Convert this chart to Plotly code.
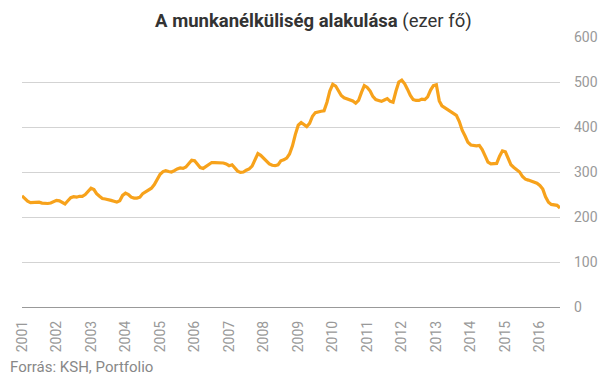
import plotly.graph_objects as go
import pandas as pd

# Monthly unemployment (thousand persons), Jan 2001 - Aug 2016
start_month = "2001-01-01"
values = [
    247, 241, 235, 232, 232, 232, 233, 231, 230, 230, 231, 234,   # 2001
    237, 236, 233, 229, 236, 243, 245, 244, 246, 246, 250, 258,   # 2002
    264, 261, 252, 246, 241, 240, 239, 237, 235, 233, 236, 248,   # 2003
    253, 250, 244, 242, 242, 244, 252, 256, 259, 264, 272, 282,   # 2004
    295, 301, 303, 301, 300, 303, 307, 309, 308, 311, 319, 326,   # 2005
    325, 317, 310, 308, 312, 317, 321, 321, 321, 320, 320, 318,   # 2006
    314, 316, 309, 302, 299, 300, 304, 307, 313, 328, 341, 337,   # 2007
    330, 322, 318, 315, 314, 316, 325, 327, 331, 340, 358, 383,   # 2008
    404, 410, 406, 401, 408, 424, 432, 434, 435, 436, 455, 480,   # 2009
    495, 491, 480, 470, 465, 462, 460, 458, 453, 459, 477, 492,   # 2010
    488, 480, 468, 461, 459, 457, 460, 463, 457, 455, 480, 500,   # 2011
    504, 496, 484, 470, 461, 459, 459, 462, 461, 467, 482, 492,   # 2012
    494, 458, 447, 443, 438, 434, 431, 426, 412, 393, 380, 366,   # 2013
    360, 358, 358, 359, 350, 336, 322, 318, 319, 319, 335, 347,   # 2014
    345, 328, 316, 310, 305, 300, 290, 284, 282, 280, 277, 275,   # 2015
    270, 262, 245, 233, 228, 227, 226, 220,                       # 2016
]
dates = pd.date_range(start_month, periods=len(values), freq="MS")

year_ticks = [f"{y}-01-01" for y in range(2001, 2017)]
year_labels = [str(y) for y in range(2001, 2017)]
y_ticks = [0, 100, 200, 300, 400, 500, 600]

title_bold = "A munkanélküliség alakulása"
title_rest = "(ezer fő)"
source_text = "Forrás: KSH, Portfolio"

fig = go.Figure()
fig.add_trace(go.Scatter(
    x=dates, y=values, mode="lines",
    line=dict(color="#F7A21B", width=3.2),
    hoverinfo="x+y", showlegend=False,
))

fig.update_layout(
    width=605, height=378,
    margin=dict(l=22, r=45, t=37, b=71, autoexpand=False),
    paper_bgcolor="white", plot_bgcolor="white",
    font=dict(family="Roboto, sans-serif", color="#999999", size=14),
    title=dict(
        text=f"<b>{title_bold}</b> {title_rest}",
        x=0.518, xanchor="center", y=0.947, yanchor="middle",
        font=dict(family="Roboto, sans-serif", size=18.5, color="#333333"),
        automargin=False,
    ),
    xaxis=dict(
        type="date", automargin=False,
        range=[dates[0], dates[-1]],
        tickvals=year_ticks, ticktext=year_labels,
        tickangle=-90, showgrid=False, zeroline=False, showline=False,
        ticks="", ticklabelstandoff=10,
        tickfont=dict(family="Roboto, sans-serif", size=14, color="#999999"),
        fixedrange=True,
    ),
    yaxis=dict(
        side="right", range=[0, 600], tickvals=y_ticks, automargin=False,
        showgrid=True, gridcolor="#d3d3d3", gridwidth=1,
        zeroline=True, zerolinecolor="#999999", zerolinewidth=1.3,
        showline=False, ticks="", ticklabelstandoff=13,
        tickfont=dict(family="Roboto, sans-serif", size=14, color="#999999"),
        fixedrange=True,
    ),
    annotations=[dict(
        text=source_text, xref="paper", yref="paper",
        x=-0.026, y=-0.18, xanchor="left", yanchor="top", showarrow=False,
        font=dict(family="Roboto, sans-serif", size=15, color="#888888"),
    )],
)

fig.write_html(
    "out.html",
    config={"displayModeBar": False},
    post_script="document.body.style.margin='0';document.body.style.padding='0';",
)
